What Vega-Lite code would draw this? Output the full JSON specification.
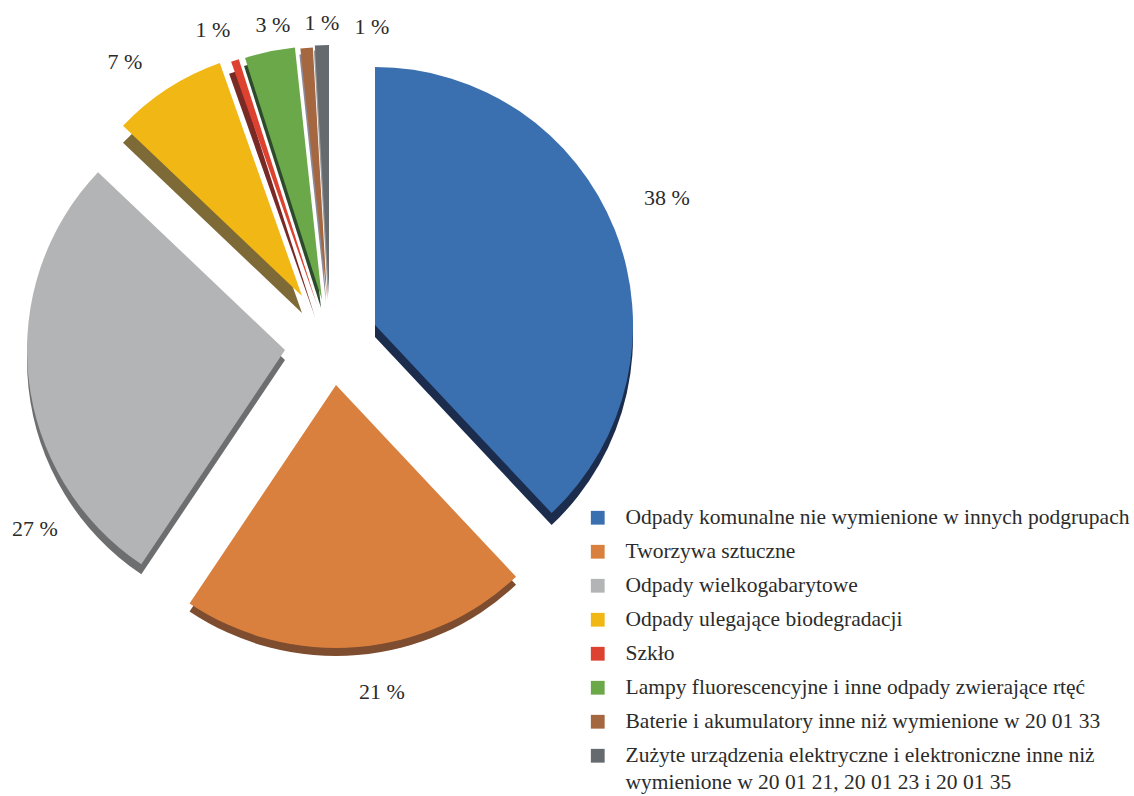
{
"$schema":"https://vega.github.io/schema/vega-lite/v6.json",
"width":1134,"height":796,"autosize":"none","padding":0,"background":"white",
"config":{"view":{"stroke":null},"text":{"font":"Liberation Serif","fontSize":22,"color":"#2b2b2b"}},
"data":{"values":[
{"idx":1,"name":"Odpady komunalne nie wymienione w innych podgrupach","share":38,"label":"38 %"},
{"idx":2,"name":"Tworzywa sztuczne","share":21.4,"label":"21 %"},
{"idx":3,"name":"Odpady wielkogabarytowe","share":27.7,"label":"27 %"},
{"idx":4,"name":"Odpady ulegające biodegradacji","share":7.5,"label":"7 %"},
{"idx":5,"name":"Szkło","share":0.5,"label":"1 %"},
{"idx":6,"name":"Lampy fluorescencyjne i inne odpady zwierające rtęć","share":3.2,"label":"3 %"},
{"idx":7,"name":"Baterie i akumulatory inne niż wymienione w 20 01 33","share":0.8,"label":"1 %"},
{"idx":8,"name":"Zużyte urządzenia elektryczne i elektroniczne inne niż wymienione w 20 01 21, 20 01 23 i 20 01 35","share":0.9,"label":"1 %"}
]},
"transform":[{"stack":"share","groupby":[],"sort":[{"field":"idx","order":"ascending"}],"as":["start","end"]}],
"encoding":{
"theta":{"field":"start","type":"quantitative","scale":{"domain":[0,100],"range":[0,6.283185]}},
"theta2":{"field":"end"}
},
"layer":[
{"transform":[{"filter":"datum.idx==1"}],"mark":{"type":"arc","outerRadius":258,"xOffset":-192,"yOffset":-61,"color":"#1b2c4c"}},
{"transform":[{"filter":"datum.idx==2"}],"mark":{"type":"arc","outerRadius":263,"xOffset":-231,"yOffset":-5,"color":"#7e4c2e"}},
{"transform":[{"filter":"datum.idx==3"}],"mark":{"type":"arc","outerRadius":258,"xOffset":-282,"yOffset":-38,"color":"#6d6e70"}},
{"transform":[{"filter":"datum.idx==4"}],"mark":{"type":"arc","outerRadius":247,"xOffset":-265,"yOffset":-85,"color":"#7d6a37"}},
{"transform":[{"filter":"datum.idx==5"}],"mark":{"type":"arc","outerRadius":258,"xOffset":-252,"yOffset":-81,"color":"#7a2a25"}},
{"transform":[{"filter":"datum.idx==6"}],"mark":{"type":"arc","outerRadius":254,"xOffset":-246,"yOffset":-90,"color":"#2e4a2c"}},
{"transform":[{"filter":"datum.idx==7"}],"mark":{"type":"arc","outerRadius":250,"xOffset":-241,"yOffset":-95,"color":"#8a8a9a"}},
{"transform":[{"filter":"datum.idx==8"}],"mark":{"type":"arc","outerRadius":250,"xOffset":-239,"yOffset":-98,"color":"#9a9a9a"}},
{"transform":[{"filter":"datum.idx==1"}],"mark":{"type":"arc","outerRadius":258,"xOffset":-192,"yOffset":-73},"encoding":{"color":{"field":"name","type":"nominal","scale":{"domain":["Odpady komunalne nie wymienione w innych podgrupach","Tworzywa sztuczne","Odpady wielkogabarytowe","Odpady ulegające biodegradacji","Szkło","Lampy fluorescencyjne i inne odpady zwierające rtęć","Baterie i akumulatory inne niż wymienione w 20 01 33","Zużyte urządzenia elektryczne i elektroniczne inne niż wymienione w 20 01 21, 20 01 23 i 20 01 35"],"range":["#3a6fb0","#d9803f","#b3b4b5","#f0b715","#dd4130","#6ba84a","#a5673f","#646a6e"]},"legend":{"title":null,"orient":"none","legendX":587,"legendY":507,"symbolType":"square","symbolSize":190,"symbolStrokeWidth":0,"labelFont":"Liberation Serif","labelFontSize":21.5,"labelColor":"#2b2b2b","labelLimit":600,"labelOffset":17,"rowPadding":11,"padding":0,"values":["Odpady komunalne nie wymienione w innych podgrupach","Tworzywa sztuczne","Odpady wielkogabarytowe","Odpady ulegające biodegradacji","Szkło","Lampy fluorescencyjne i inne odpady zwierające rtęć","Baterie i akumulatory inne niż wymienione w 20 01 33","Zużyte urządzenia elektryczne i elektroniczne inne niż wymienione w 20 01 21, 20 01 23 i 20 01 35"],"labelExpr":"indexof(datum.label,'Zużyte')==0 ? ['Zużyte urządzenia elektryczne i elektroniczne inne niż','wymienione w 20 01 21, 20 01 23 i 20 01 35'] : datum.label","encode":{"labels":{"update":{"lineHeight":{"value":27}}}}}}}},
{"transform":[{"filter":"datum.idx==2"}],"mark":{"type":"arc","outerRadius":263,"xOffset":-231,"yOffset":-13},"encoding":{"color":{"field":"name","type":"nominal"}}},
{"transform":[{"filter":"datum.idx==3"}],"mark":{"type":"arc","outerRadius":258,"xOffset":-282,"yOffset":-48},"encoding":{"color":{"field":"name","type":"nominal"}}},
{"transform":[{"filter":"datum.idx==4"}],"mark":{"type":"arc","outerRadius":247,"xOffset":-265,"yOffset":-102},"encoding":{"color":{"field":"name","type":"nominal"}}},
{"transform":[{"filter":"datum.idx==5"}],"mark":{"type":"arc","outerRadius":258,"xOffset":-250,"yOffset":-93},"encoding":{"color":{"field":"name","type":"nominal"}}},
{"transform":[{"filter":"datum.idx==6"}],"mark":{"type":"arc","outerRadius":254,"xOffset":-245,"yOffset":-98},"encoding":{"color":{"field":"name","type":"nominal"}}},
{"transform":[{"filter":"datum.idx==7"}],"mark":{"type":"arc","outerRadius":250,"xOffset":-240,"yOffset":-101},"encoding":{"color":{"field":"name","type":"nominal"}}},
{"transform":[{"filter":"datum.idx==8"}],"mark":{"type":"arc","outerRadius":250,"xOffset":-238,"yOffset":-103},"encoding":{"color":{"field":"name","type":"nominal"}}},
{"transform":[{"filter":"datum.idx==1"}],"mark":{"type":"text","xOffset":100,"yOffset":-200},"encoding":{"theta":null,"theta2":null,"text":{"field":"label"}}},
{"transform":[{"filter":"datum.idx==2"}],"mark":{"type":"text","xOffset":-185,"yOffset":294},"encoding":{"theta":null,"theta2":null,"text":{"field":"label"}}},
{"transform":[{"filter":"datum.idx==3"}],"mark":{"type":"text","xOffset":-532,"yOffset":131},"encoding":{"theta":null,"theta2":null,"text":{"field":"label"}}},
{"transform":[{"filter":"datum.idx==4"}],"mark":{"type":"text","xOffset":-442,"yOffset":-336},"encoding":{"theta":null,"theta2":null,"text":{"field":"label"}}},
{"transform":[{"filter":"datum.idx==5"}],"mark":{"type":"text","xOffset":-354,"yOffset":-368},"encoding":{"theta":null,"theta2":null,"text":{"field":"label"}}},
{"transform":[{"filter":"datum.idx==6"}],"mark":{"type":"text","xOffset":-294,"yOffset":-373},"encoding":{"theta":null,"theta2":null,"text":{"field":"label"}}},
{"transform":[{"filter":"datum.idx==7"}],"mark":{"type":"text","xOffset":-245,"yOffset":-375},"encoding":{"theta":null,"theta2":null,"text":{"field":"label"}}},
{"transform":[{"filter":"datum.idx==8"}],"mark":{"type":"text","xOffset":-195,"yOffset":-371},"encoding":{"theta":null,"theta2":null,"text":{"field":"label"}}}
]
}
